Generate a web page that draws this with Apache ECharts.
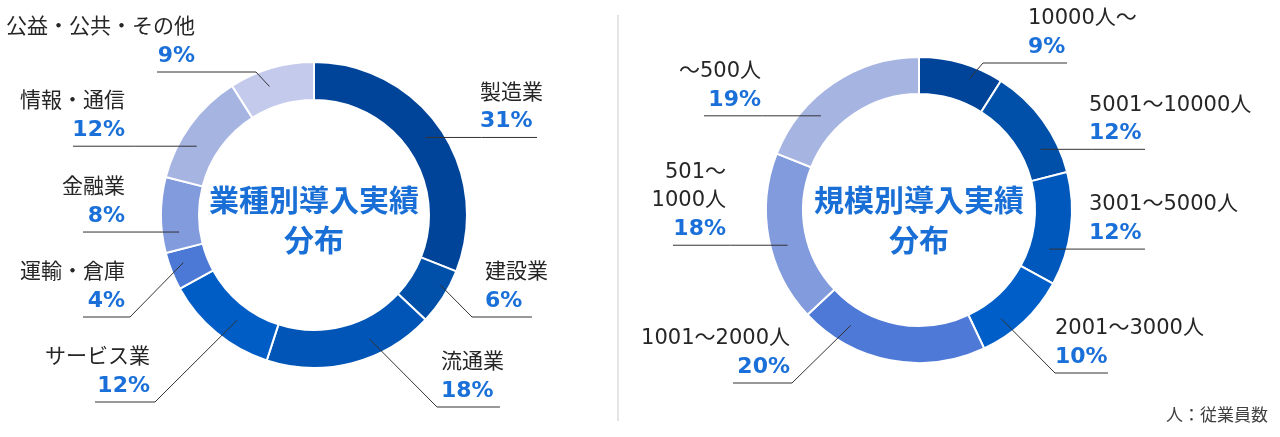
<!DOCTYPE html>
<html><head><meta charset="utf-8">
<script src="https://cdn.jsdelivr.net/npm/echarts@6/dist/echarts.min.js"></script>
<style>html,body{margin:0;padding:0;background:#fff}#c{width:1280px;height:437px}</style>
</head><body><div id="c"></div>
<script>
// ---- data ----
const industryNames = ['製造業','建設業','流通業','サービス業','運輸・倉庫','金融業','情報・通信','公益・公共・その他'];
const industryValues = [31, 6, 18, 12, 4, 8, 12, 9];
const sizeNames = ['10000人～','5001～10000人','3001～5000人','2001～3000人','1001～2000人','501～1000人','～500人'];
const sizeValues = [9, 12, 12, 10, 20, 18, 19];
const centerTitles = ['業種別導入実績\n分布', '規模別導入実績\n分布'];
const footnote = '人：従業員数';

// ---- styles ----
const industryColors = ['#00449a','#0050aa','#0055b6','#005dc6','#4d79d6','#819bdd','#a6b4e2','#c3caec'];
const sizeColors = ['#00449a','#0050aa','#0058bc','#005ec8','#4e79d7','#819bdd','#a6b4e2'];
const NAME_COLOR = '#262626';
const PCT_COLOR = '#1a70d8';
const FONT = "'DejaVu Sans','Noto Sans CJK JP',sans-serif";

// label layout: side, text x, line y, outer line end x, elbow x (null = straight), anchor fraction in slice, line break pos
const leftLayout = { cx: 314, cy: 215, r0: 115, r1: 153, ar: 136, labels: [
  { side: 'R', tx: 480, ly: 138, lx: 537, ex: null, f: 0.495 },
  { side: 'R', tx: 485, ly: 317, lx: 532, ex: 472, f: 0.34, r: 144 },
  { side: 'R', tx: 441, ly: 407, lx: 500, ex: 437, f: 0.35 },
  { side: 'L', tx: 150, ly: 402, lx: 95,  ex: 155, f: 0.42, r: 130 },
  { side: 'L', tx: 125, ly: 317, lx: 83,  ex: 130, f: 0.61, r: 139 },
  { side: 'L', tx: 125, ly: 232, lx: 83,  ex: null, f: 0.25 },
  { side: 'L', tx: 125, ly: 147, lx: 73,  ex: null, f: 0.37 },
  { side: 'L', tx: 195, ly: 72,  lx: 157, ex: 256, f: 0.41 }
]};
const rightLayout = { cx: 919, cy: 210, r0: 116, r1: 153, ar: 136, labels: [
  { side: 'R', tx: 1028, ly: 63,  lx: 1067, ex: 983,  f: 0.65, r: 141 },
  { side: 'R', tx: 1089, ly: 148, lx: 1145, ex: null, f: 0.72 },
  { side: 'R', tx: 1089, ly: 250, lx: 1145, ex: null, f: 0.72 },
  { side: 'R', tx: 1055, ly: 373, lx: 1108, ex: 1055, f: 0.67 },
  { side: 'L', tx: 790,  ly: 383, lx: 733,  ex: 792,  f: 0.775, r: 134 },
  { side: 'L', tx: 726,  ly: 245, lx: 673,  ex: null, f: 0.435, br: 4 },
  { side: 'L', tx: 761,  ly: 117, lx: 704,  ex: null, f: 0.325 }
]};

function anchors(L, values) {
  const total = values.reduce((a, b) => a + b, 0);
  let acc = 0;
  return values.map((v, i) => {
    const s = L.labels[i];
    const ang = (acc + v * s.f) / total * Math.PI * 2;
    acc += v;
    const r = s.r || L.ar;
    return [L.cx + r * Math.sin(ang), L.cy - r * Math.cos(ang)];
  });
}

// ring series (coloured sectors, no labels)
function ringSeries(L, names, values, colors) {
  return {
    type: 'pie', z: 2,
    center: [L.cx, L.cy], radius: [L.r0, L.r1],
    startAngle: 90, clockwise: true, silent: true, animation: false,
    itemStyle: { borderColor: '#ffffff', borderWidth: 2 },
    label: { show: false }, labelLine: { show: false },
    data: names.map((n, i) => ({ name: n, value: values[i], itemStyle: { color: colors[i] } }))
  };
}

// label series (transparent sectors on top, draws labels + leader lines above the ring)
function labelSeries(L, names, values) {
  const anc = anchors(L, values);
  return {
    type: 'pie', z: 5,
    center: [L.cx, L.cy], radius: [L.r0, L.r1],
    startAngle: 90, clockwise: true, silent: true, animation: false,
    avoidLabelOverlap: false,
    itemStyle: { color: 'rgba(0,0,0,0)', borderWidth: 0 },
    data: names.map((n, i) => ({ name: n, value: values[i] })),
    label: {
      show: true,
      position: 'outside',
      fontFamily: FONT,
      formatter: p => {
        const s = L.labels[p.dataIndex];
        let nm = p.name;
        if (s.br) nm = nm.slice(0, s.br) + '\n' + nm.slice(s.br);
        return nm.split('\n').map(t => '{n|' + t + '}').join('\n') + '\n{p|' + p.value + '%}';
      },
      rich: {
        n: { fontSize: 21, color: NAME_COLOR, fontFamily: FONT, lineHeight: 28.5 },
        p: { fontSize: 22, color: PCT_COLOR, fontWeight: 'bold', fontFamily: "'DejaVu Sans',sans-serif", lineHeight: 28.5 }
      }
    },
    labelLine: { show: true, smooth: false, lineStyle: { color: '#333333', width: 1 } },
    labelLayout: params => {
      const i = params.dataIndex;
      const s = L.labels[i];
      const a = anc[i];
      let pts, ly;
      if (s.ex == null) {
        ly = a[1];
        pts = [[s.lx, ly], [(s.lx + a[0]) / 2, ly], [a[0], a[1]]];
      } else {
        ly = s.ly;
        pts = [[s.lx, ly], [s.ex, ly], [a[0], a[1]]];
      }
      return {
        x: s.tx, y: ly - 1.5,
        align: s.side === 'L' ? 'right' : 'left',
        verticalAlign: 'bottom',
        labelLinePoints: pts
      };
    }
  };
}

const chart = echarts.init(document.getElementById('c'), null, { renderer: 'canvas' });
chart.setOption({
  backgroundColor: '#ffffff',
  animation: false,
  series: [
    ringSeries(leftLayout, industryNames, industryValues, industryColors),
    ringSeries(rightLayout, sizeNames, sizeValues, sizeColors),
    labelSeries(leftLayout, industryNames, industryValues),
    labelSeries(rightLayout, sizeNames, sizeValues)
  ],
  graphic: [
    { type: 'line', shape: { x1: 618, y1: 15, x2: 618, y2: 421 }, style: { stroke: '#dcdcdc', lineWidth: 1.5 }, silent: true },
    { type: 'text', x: leftLayout.cx, y: 220, style: { text: centerTitles[0], fill: '#1a6fd6', font: "bold 30px 'Noto Sans CJK JP'", textAlign: 'center', textVerticalAlign: 'middle', lineHeight: 40 } },
    { type: 'text', x: rightLayout.cx, y: 220, style: { text: centerTitles[1], fill: '#1a6fd6', font: "bold 30px 'Noto Sans CJK JP'", textAlign: 'center', textVerticalAlign: 'middle', lineHeight: 40 } },
    { type: 'text', x: 1268, y: 415, style: { text: footnote, fill: '#404040', font: "17px 'Noto Sans CJK JP'", textAlign: 'right', textVerticalAlign: 'middle' } }
  ]
});
</script>
</body></html>
